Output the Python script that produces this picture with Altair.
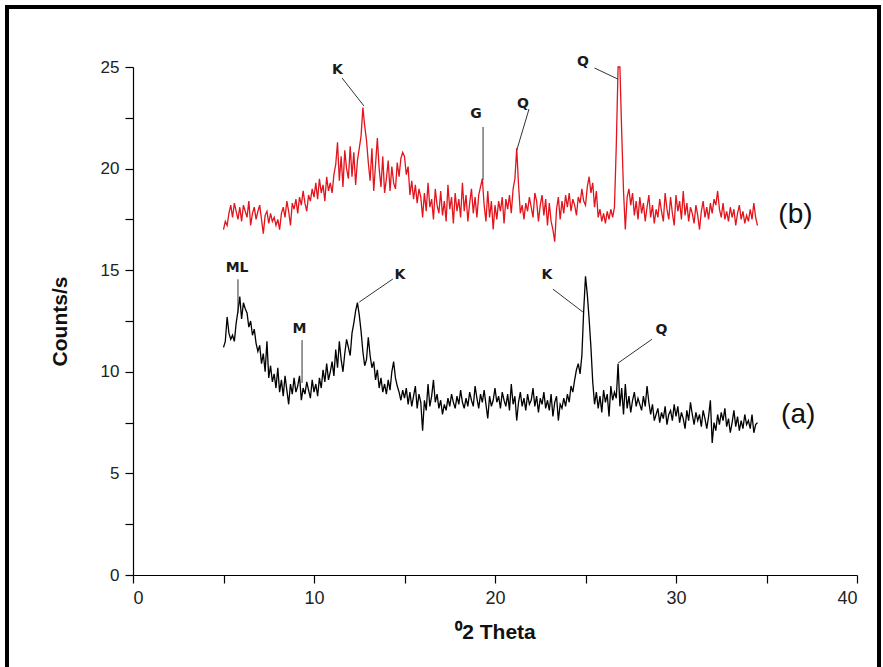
import altair as alt
import pandas as pd

# ---- measured XRD patterns (step 0.1 deg from 5.0 to 34.5) ----
counts_b = [
    17.0, 17.4, 17.2, 17.8, 18.2, 17.6, 18.3, 17.9, 17.5, 18.1,   # 5.x
    17.4, 18.2, 17.9, 17.6, 18.4, 17.2, 17.8, 18.1, 17.5, 17.9,   # 6.x
    18.2, 17.5, 16.8, 17.7, 17.9, 17.3, 17.8, 17.4, 17.6, 17.2,   # 7.x
    17.5, 17.0, 17.8, 18.1, 17.6, 18.4, 17.9, 17.2, 18.3, 18.0,   # 8.x
    18.5, 17.8, 18.6, 18.2, 18.9, 18.3, 17.9, 18.7, 18.4, 19.0,   # 9.x
    18.6, 19.3, 18.5, 19.5, 18.8, 19.2, 18.4, 19.6, 18.9, 19.3,   # 10.x
    18.8, 19.7, 20.2, 21.3, 19.4, 20.6, 19.1, 20.9, 20.0, 19.5,   # 11.x
    21.1, 19.6, 20.8, 19.2, 20.4, 21.0, 21.6, 23.0, 22.1, 21.4,   # 12.x
    20.3, 19.4, 21.0, 18.9, 20.2, 21.5, 20.0, 19.1, 20.6, 18.8,   # 13.x
    19.5, 20.4, 18.9, 20.1, 19.3, 19.0, 20.3, 19.6, 20.5, 20.8,   # 14.x
    20.6, 19.7, 20.1, 18.7, 19.4, 18.5, 19.2, 18.3, 19.0, 18.6,   # 15.x
    17.6, 18.8, 17.9, 19.3, 18.1, 18.5, 17.5, 19.0, 18.2, 17.8,   # 16.x
    18.9, 17.7, 18.4, 17.4, 19.2, 18.0, 18.6, 17.3, 18.8, 17.9,   # 17.x
    18.5, 17.6, 19.3, 17.9, 18.7, 17.4, 18.3, 19.0, 17.8, 18.6,   # 18.x
    17.6, 18.7, 19.1, 19.5, 18.2, 17.4, 18.9, 17.6, 18.4, 17.0,   # 19.x
    18.2, 17.5, 18.4, 17.9, 18.6, 17.3, 18.5, 18.0, 18.7, 17.8,   # 20.x
    19.0, 19.5, 21.0, 19.2, 17.8, 18.2, 17.5, 18.3, 17.9, 18.6,   # 21.x
    18.1, 17.6, 18.8, 18.4, 17.4, 18.2, 18.7, 17.7, 18.5, 17.2,   # 22.x
    18.3, 17.4, 17.0, 16.4, 18.0, 18.6, 17.5, 18.4, 17.8, 18.7,   # 23.x
    18.1, 18.8, 17.9, 18.5, 18.2, 17.7, 18.6, 18.3, 19.0, 18.4,   # 24.x
    18.2, 19.1, 19.6, 18.8, 19.3, 18.1, 18.9, 17.6, 18.0, 17.4,   # 25.x
    17.8, 17.3, 17.9, 17.5, 18.0, 17.6, 18.1, 21.1, 25.0, 25.0,   # 26.x
    21.8, 18.9, 17.0, 18.6, 19.0, 18.2, 18.8, 17.7, 18.4, 17.5,   # 27.x
    18.6, 17.8, 18.3, 17.4, 18.1, 18.7, 17.6, 18.2, 17.3, 18.0,   # 28.x
    17.6, 18.5, 17.9, 17.4, 18.8, 18.0, 17.5, 18.6, 17.8, 17.2,   # 29.x
    18.7, 17.9, 18.4, 17.5, 18.9, 17.7, 18.3, 17.4, 18.1, 17.8,   # 30.x
    17.3, 18.2, 17.7, 17.0, 17.9, 18.4, 17.6, 18.1, 17.5, 18.3,   # 31.x
    17.8, 18.5, 18.2, 18.9, 18.0, 17.6, 18.3, 17.5, 17.9, 17.4,   # 32.x
    18.1, 17.6, 18.0, 17.2, 17.8, 18.2, 17.5, 17.9, 17.3, 17.7,   # 33.x
    17.4, 18.0, 17.5, 18.3, 17.6, 17.2,                           # 34.0-34.5
]

counts_a = [
    11.2, 11.5, 12.7, 11.9, 11.6, 11.8, 11.5, 12.4, 13.0, 13.7,   # 5.x
    12.6, 13.4, 13.1, 12.9, 12.2, 12.5, 11.8, 12.1, 11.4, 11.0,   # 6.x
    11.3, 10.4, 10.9, 10.0, 11.5, 9.7, 10.3, 9.5, 9.9, 9.2,       # 7.x
    10.2, 9.0, 9.6, 8.8, 9.8, 9.1, 8.4, 9.4, 8.9, 9.7,            # 8.x
    9.0, 9.3, 9.8, 8.6, 9.2, 8.9, 9.5, 9.1, 8.7, 9.6,             # 9.x
    9.0, 9.4, 8.8, 9.7, 9.2, 10.1, 9.5, 10.4, 9.6, 10.0,          # 10.x
    10.5, 9.8, 11.1, 10.2, 11.5, 10.6, 10.0, 10.9, 11.6, 11.2,    # 11.x
    10.8, 11.9, 12.4, 13.0, 13.4, 12.8, 12.0, 11.0, 10.3, 10.6,   # 12.x
    11.7, 10.8, 10.2, 10.5, 9.6, 10.1, 9.2, 9.7, 9.0, 9.4,        # 13.x
    8.9, 9.6, 9.1, 10.0, 10.5, 9.7, 9.3, 9.0, 8.6, 9.1,           # 14.x
    8.7, 9.2, 8.4, 9.0, 8.3, 8.8, 9.3, 8.2, 8.9, 8.5,             # 15.x
    7.1, 8.6, 8.1, 9.4, 8.3, 8.8, 9.6, 8.5, 8.9, 8.2,             # 16.x
    8.6, 7.9, 8.4, 8.1, 8.7, 8.3, 8.9, 8.5, 8.2, 8.8,             # 17.x
    8.4, 9.1, 8.5, 8.2, 8.7, 8.3, 9.0, 8.6, 8.3, 9.3,             # 18.x
    8.7, 8.2, 8.9, 8.5, 9.1, 8.4, 7.7, 8.8, 8.3, 8.6,             # 19.x
    9.2, 8.5, 8.8, 8.2, 9.0, 8.6, 8.3, 8.9, 8.1, 9.4,             # 20.x
    8.4, 8.8, 7.6, 8.5, 9.0, 8.3, 8.7, 8.1, 8.9, 8.4,             # 21.x
    8.6, 9.2, 8.3, 8.8, 8.0, 8.7, 8.4, 9.0, 8.2, 8.6,             # 22.x
    8.1, 8.9, 7.8, 8.5, 8.8, 7.6, 8.4, 8.2, 8.7, 8.3,             # 23.x
    8.9, 8.5, 9.3, 9.0, 9.6, 10.1, 10.4, 9.9, 10.8, 13.0,         # 24.x
    14.7, 13.8, 12.6, 11.2, 9.5, 8.4, 9.0, 8.2, 8.8, 8.0,         # 25.x
    9.1, 8.5, 8.9, 7.8, 9.3, 8.6, 9.0, 8.7, 10.4, 8.3,            # 26.x
    9.2, 7.9, 9.4, 8.2, 8.8, 8.0, 8.6, 9.0, 8.3, 8.7,             # 27.x
    8.4, 8.1, 8.8, 8.3, 9.3, 8.5, 7.9, 8.4, 7.6, 7.9,             # 28.x
    8.2, 7.5, 8.0, 7.7, 8.3, 7.4, 7.9, 8.1, 7.6, 8.4,             # 29.x
    7.8, 8.3, 7.5, 8.0, 7.7, 7.2, 8.1, 7.6, 8.5, 7.9,             # 30.x
    7.4, 8.0, 7.6, 7.9, 7.3, 8.1, 7.7, 7.2, 7.8, 8.6,             # 31.x
    6.5, 7.5, 7.1, 7.9, 7.4, 8.0, 7.6, 8.2, 7.3, 7.7,             # 32.x
    7.0, 7.5, 8.1, 7.3, 7.8, 7.1, 7.6, 7.2, 7.9, 7.4,             # 33.x
    7.6, 7.2, 7.9, 7.0, 7.4, 7.5,                                 # 34.0-34.5
]

two_theta = [round(5.0 + 0.1 * i, 1) for i in range(len(counts_a))]

# ---- phase annotations (label position and leader line, data units) ----
ann_label = ["K", "G", "Q", "Q", "ML", "M", "K", "K", "Q"]
ann_tx = [11.3, 18.95, 21.55, 24.86, 5.75, 9.2, 14.75, 22.87, 29.2]
ann_ty = [24.85, 22.7, 23.2, 25.25, 15.1, 12.1, 14.76, 14.76, 12.06]
ann_x1 = [11.55, 19.34, 21.88, 25.5, 5.8, 9.34, 14.36, 23.2, 28.67]
ann_y1 = [24.46, 22.05, 22.93, 24.95, 14.55, 11.56, 14.57, 14.07, 11.6]
ann_x2 = [12.76, 19.34, 21.2, 26.8, 5.8, 9.34, 12.5, 24.86, 26.8]
ann_y2 = [23.08, 19.44, 20.9, 24.4, 12.9, 9.45, 13.43, 12.94, 10.43]

series_names = ["(a)", "(b)"]
series_label_x = [36.75, 36.6]
series_label_y = [7.85, 17.7]

# ---- tables ----
df = pd.concat([
    pd.DataFrame({"theta": two_theta, "counts": counts_a, "series": "(a)"}),
    pd.DataFrame({"theta": two_theta, "counts": counts_b, "series": "(b)"}),
])
ann = pd.DataFrame({"label": ann_label, "tx": ann_tx, "ty": ann_ty,
                    "x1": ann_x1, "y1": ann_y1, "x2": ann_x2, "y2": ann_y2})
lab = pd.DataFrame({"name": series_names, "x": series_label_x, "y": series_label_y})

W, H = 724, 508
xscale = alt.Scale(domain=[0, 40], nice=False, zero=False)
yscale = alt.Scale(domain=[0, 25], nice=False, zero=False)

x_axis = alt.Axis(
    values=[0, 5, 10, 15, 20, 25, 30, 35, 40],
    labelExpr="datum.value % 10 == 0 ? datum.label : ''",
    title="\u2070" + "2 Theta", grid=False, tickSize=8, labelPadding=6,
    labelFont="Liberation Sans", labelFontSize=18, labelColor="#222",
    titleFont="Liberation Sans", titleFontSize=21, titleFontWeight="bold",
    titleColor="#111", titlePadding=14,
    domainColor="black", tickColor="black", domainWidth=1.2, tickWidth=1.2,
)
y_axis = alt.Axis(
    values=[0, 2.5, 5, 7.5, 10, 12.5, 15, 17.5, 20, 22.5, 25],
    labelExpr="datum.value % 5 == 0 ? datum.label : ''",
    title="Counts/s", grid=False, tickSize=8, labelPadding=6,
    labelFont="Liberation Sans", labelFontSize=17, labelColor="#222",
    titleFont="Liberation Sans", titleFontSize=21, titleFontWeight="bold",
    titleColor="#111", titlePadding=30,
    domainColor="black", tickColor="black", domainWidth=1.2, tickWidth=1.2,
)

lines = alt.Chart(df).mark_line(strokeWidth=1.3, interpolate="linear").encode(
    x=alt.X("theta:Q", scale=xscale, axis=x_axis),
    y=alt.Y("counts:Q", scale=yscale, axis=y_axis),
    color=alt.Color("series:N", scale=alt.Scale(domain=["(a)", "(b)"],
                                                range=["#000000", "#e3141c"]),
                    legend=None),
    detail="series:N",
)

leaders = alt.Chart(ann).mark_rule(color="#333", strokeWidth=1).encode(
    x=alt.X("x1:Q", scale=xscale), y=alt.Y("y1:Q", scale=yscale),
    x2="x2:Q", y2="y2:Q",
)

letters = alt.Chart(ann).mark_text(
    font="DejaVu Sans", fontSize=14, fontWeight="bold", color="#1a1a1a",
    align="center", baseline="middle",
).encode(
    x=alt.X("tx:Q", scale=xscale), y=alt.Y("ty:Q", scale=yscale), text="label:N",
)

series_text = alt.Chart(lab).mark_text(
    font="Liberation Sans", fontSize=28, color="#111",
    align="center", baseline="middle",
).encode(
    x=alt.X("x:Q", scale=xscale), y=alt.Y("y:Q", scale=yscale), text="name:N",
)

frame = alt.Chart(lab).mark_rect(
    filled=False, stroke="black", strokeWidth=4, fill=None,
).encode(
    x=alt.value(-126), x2=alt.value(746), y=alt.value(-60), y2=alt.value(640),
)

chart = alt.layer(frame, lines, leaders, letters, series_text).properties(
    width=W, height=H,
    padding={"left": 133, "top": 67, "right": 26, "bottom": 92},
    autosize=alt.AutoSizeParams(type="none"),
    background="white",
).configure_view(stroke=None)

chart.save("out.html", embed_options={"renderer": "svg", "actions": False})
